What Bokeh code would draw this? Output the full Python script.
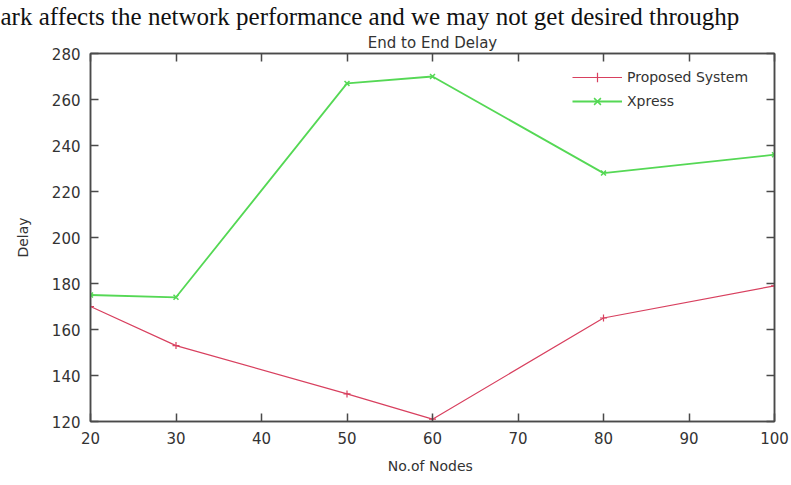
from bokeh.plotting import figure
from bokeh.models import LinearAxis, Title, Legend, LegendItem, FixedTicker, Range1d
from bokeh.embed import file_html
from bokeh.resources import INLINE

nodes = [20, 30, 50, 60, 80, 100]
proposed = [170, 153, 132, 121, 165, 179]
xpress = [175, 174, 267, 270, 228, 236]
x_ticks = [20, 30, 40, 50, 60, 70, 80, 90, 100]
y_ticks = [120, 140, 160, 180, 200, 220, 240, 260, 280]
chart_title = "End to End Delay"
page_text = "ark affects the network performance and we may not get desired throughp"

FONT = "DejaVu Sans"
AX = "#4a4a4a"
TXT = "#333333"

p = figure(width=791, height=485, output_backend="svg", toolbar_location=None,
           x_range=Range1d(20, 100), y_range=Range1d(120, 280),
           frame_width=684, frame_height=368,
           min_border_left=90, min_border_right=17, min_border_top=0, min_border_bottom=64)
p.grid.visible = False
p.outline_line_color = AX
p.outline_line_width = 1.5
p.background_fill_color = "white"
p.border_fill_color = "white"

def style_axis(ax, labels=True):
    ax.axis_line_color = AX
    ax.axis_line_width = 1.5
    ax.major_tick_line_color = AX
    ax.major_tick_line_width = 1.5
    ax.major_tick_in = 8
    ax.major_tick_out = 0
    ax.minor_tick_line_color = None
    ax.major_label_text_font = FONT
    ax.major_label_text_font_size = "15px"
    ax.major_label_text_color = TXT
    ax.axis_label_text_font = FONT
    ax.axis_label_text_font_size = "14px"
    ax.axis_label_text_font_style = "normal"
    ax.axis_label_text_color = TXT
    if not labels:
        ax.major_label_text_color = None
        ax.major_label_standoff = 0

p.xaxis.ticker = FixedTicker(ticks=x_ticks)
p.yaxis.ticker = FixedTicker(ticks=y_ticks)
p.xaxis.axis_label = "No.of  Nodes"
p.yaxis.axis_label = "Delay"
style_axis(p.xaxis[0])
style_axis(p.yaxis[0])
p.xaxis.major_label_standoff = 10
p.yaxis.major_label_standoff = 10
p.xaxis.axis_label_standoff = 11
p.yaxis.axis_label_standoff = 18

top = LinearAxis(ticker=FixedTicker(ticks=x_ticks))
right = LinearAxis(ticker=FixedTicker(ticks=y_ticks))
style_axis(top, labels=False)
style_axis(right, labels=False)
top.major_label_overrides = {t: "" for t in x_ticks}
right.major_label_overrides = {t: "" for t in y_ticks}
top.major_label_text_font_size = "1px"
p.add_layout(top, "above")
p.add_layout(right, "right")

ctitle = Title(text=chart_title, align="center", text_font=FONT, text_font_size="15px",
               text_font_style="normal", text_color=TXT, standoff=4)
p.add_layout(ctitle, "above")

p.title.text = page_text
p.title.align = "left"
p.title.offset = -90
p.title.text_font = "Liberation Serif"
p.title.text_font_size = "25px"
p.title.text_font_style = "normal"
p.title.text_color = "#111111"
p.title.standoff = 0
p.title.text_line_height = 0.6

RED = "#d8405f"
GREEN = "#55d855"
r1 = p.line(nodes, proposed, line_color=RED, line_width=1.2)
m1 = p.scatter(nodes, proposed, marker="cross", size=7, line_color=RED, line_width=1.2)
r2 = p.line(nodes, xpress, line_color=GREEN, line_width=1.8)
m2 = p.scatter(nodes, xpress, marker="x", size=7, line_color=GREEN, line_width=1.5)

legend = Legend(items=[LegendItem(label="Proposed System", renderers=[r1, m1]),
                       LegendItem(label="Xpress", renderers=[r2, m2])],
                location=(482, 308))
legend.border_line_color = None
legend.background_fill_alpha = 0
legend.label_text_font = FONT
legend.label_text_font_size = "14px"
legend.label_text_color = TXT
legend.glyph_width = 50
legend.glyph_height = 24
legend.spacing = 0
legend.label_height = 24
legend.margin = 0
legend.padding = 4
p.add_layout(legend)

open("out.html", "w").write(file_html(p, INLINE))
